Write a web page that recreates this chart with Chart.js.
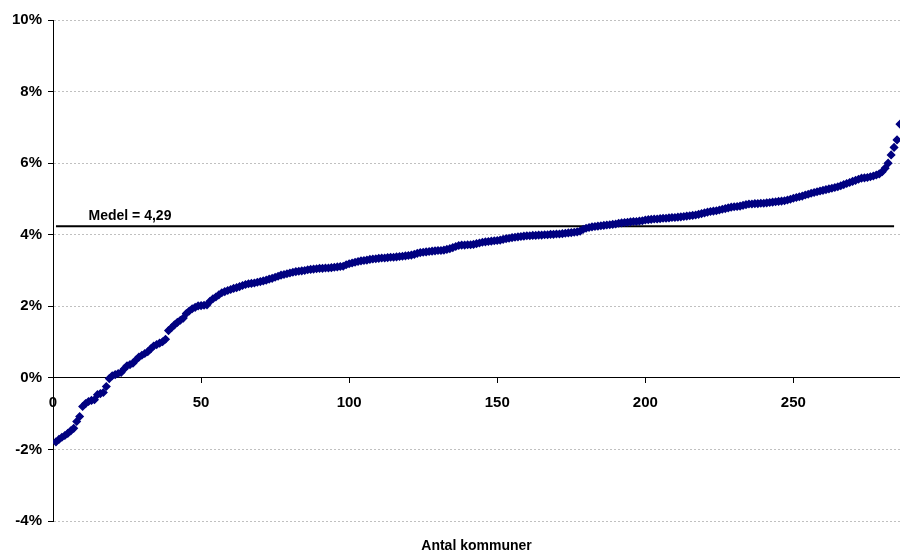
<!DOCTYPE html>
<html>
<head>
<meta charset="utf-8">
<script src="https://cdn.jsdelivr.net/npm/chart.js@4"></script>
<style>
  body { margin: 0; background: #fff; }
  #wrap { width: 900px; height: 555px; position: relative; }
</style>
</head>
<body>
<div id="wrap"><canvas id="kommunChart"></canvas></div>
<script>
// sorted values per kommun (percent)
const values = [
  -1.79, -1.72, -1.66, -1.61, -1.55, -1.48, -1.41, -1.22, -1.08, -0.80,
  -0.72, -0.66, -0.63, -0.61, -0.47, -0.44, -0.41, -0.24, -0.02, 0.06,
  0.09, 0.12, 0.15, 0.25, 0.34, 0.37, 0.41, 0.50, 0.58, 0.63,
  0.68, 0.73, 0.81, 0.89, 0.93, 0.97, 1.01, 1.08, 1.32, 1.40,
  1.48, 1.55, 1.61, 1.67, 1.80, 1.87, 1.93, 1.97, 2.01, 2.02,
  2.03, 2.04, 2.14, 2.21, 2.26, 2.32, 2.38, 2.41, 2.44, 2.47,
  2.50, 2.52, 2.55, 2.58, 2.61, 2.63, 2.64, 2.65, 2.67, 2.69,
  2.71, 2.73, 2.76, 2.78, 2.81, 2.84, 2.87, 2.89, 2.91, 2.93,
  2.95, 2.97, 2.98, 2.99, 3.00, 3.02, 3.03, 3.04, 3.05, 3.06,
  3.06, 3.07, 3.07, 3.08, 3.09, 3.10, 3.11, 3.12, 3.16, 3.19,
  3.21, 3.23, 3.25, 3.27, 3.28, 3.29, 3.31, 3.32, 3.33, 3.34,
  3.35, 3.35, 3.36, 3.37, 3.37, 3.38, 3.39, 3.40, 3.41, 3.42,
  3.43, 3.45, 3.48, 3.50, 3.51, 3.52, 3.53, 3.54, 3.55, 3.56,
  3.56, 3.57, 3.59, 3.61, 3.64, 3.67, 3.70, 3.71, 3.71, 3.72,
  3.72, 3.73, 3.75, 3.77, 3.79, 3.80, 3.81, 3.82, 3.83, 3.84,
  3.85, 3.87, 3.89, 3.90, 3.92, 3.93, 3.94, 3.95, 3.96, 3.97,
  3.97, 3.98, 3.98, 3.99, 3.99, 4.00, 4.00, 4.01, 4.01, 4.02,
  4.02, 4.03, 4.04, 4.05, 4.06, 4.07, 4.08, 4.10, 4.15, 4.18,
  4.20, 4.22, 4.23, 4.24, 4.25, 4.26, 4.27, 4.28, 4.29, 4.30,
  4.32, 4.33, 4.34, 4.35, 4.36, 4.37, 4.37, 4.38, 4.39, 4.41,
  4.42, 4.43, 4.44, 4.44, 4.45, 4.46, 4.46, 4.47, 4.48, 4.48,
  4.49, 4.50, 4.51, 4.52, 4.53, 4.54, 4.55, 4.57, 4.59, 4.61,
  4.63, 4.65, 4.66, 4.67, 4.69, 4.71, 4.73, 4.75, 4.77, 4.78,
  4.79, 4.80, 4.82, 4.84, 4.86, 4.86, 4.87, 4.87, 4.88, 4.88,
  4.89, 4.90, 4.91, 4.92, 4.93, 4.94, 4.95, 4.97, 4.99, 5.02,
  5.04, 5.06, 5.08, 5.11, 5.13, 5.16, 5.18, 5.20, 5.22, 5.24,
  5.26, 5.28, 5.30, 5.32, 5.34, 5.37, 5.40, 5.43, 5.46, 5.49,
  5.52, 5.55, 5.58, 5.59, 5.60, 5.62, 5.64, 5.67, 5.70, 5.76,
  5.86, 6.00, 6.23, 6.44, 6.65, 7.09
];

// mean line
const medelText = "Medel = 4,29";
const medelLevel = 4.24;
const medelStart = 1;
const medelEnd = 284;

// axes
const xMax = 286;
const xTickStep = 50;
const yMin = -4;
const yMax = 10;
const yTickStep = 2;
const xTitle = "Antal kommuner";

const FONT = "'Liberation Sans', Arial, sans-serif";

const points = values.map((v, i) => ({ x: i + 1, y: v }));

// draws the mean label and the x axis title
const textPlugin = {
  id: "texts",
  afterDraw(chart) {
    const { ctx, chartArea, scales } = chart;
    ctx.save();
    ctx.fillStyle = "#000";
    ctx.font = "bold 14px " + FONT;
    ctx.textAlign = "left";
    ctx.textBaseline = "alphabetic";
    ctx.fillText(medelText, scales.x.getPixelForValue(12), scales.y.getPixelForValue(medelLevel) - 6);
    ctx.textAlign = "center";
    ctx.fillText(xTitle, (chartArea.left + chartArea.right) / 2, 550);
    ctx.restore();
  },
};

const ctx = document.getElementById("kommunChart").getContext("2d");

new Chart(ctx, {
  type: "scatter",
  data: {
    datasets: [
      {
        label: "Kommuner",
        data: points,
        backgroundColor: "#000080",
        borderColor: "#000080",
        borderWidth: 1.5,
        pointStyle: "rectRot",
        pointRadius: 3.5,
        pointHoverRadius: 3.5,
      },
      {
        label: "Medel",
        type: "line",
        data: [
          { x: medelStart, y: medelLevel },
          { x: medelEnd, y: medelLevel },
        ],
        borderColor: "#000",
        borderWidth: 2,
        pointRadius: 0,
      },
    ],
  },
  options: {
    responsive: true,
    maintainAspectRatio: false,
    animation: false,
    layout: {
      autoPadding: false,
      padding: { top: 20, bottom: 34, left: 0, right: 0 },
    },
    plugins: {
      legend: { display: false },
      tooltip: { enabled: false },
    },
    scales: {
      x: {
        type: "linear",
        min: 0,
        max: xMax,
        position: { y: 0 },
        afterBuildTicks: (scale) => {
          scale.ticks = scale.ticks.filter((t) => t.value % xTickStep === 0);
        },
        afterFit: (scale) => {
          scale.paddingLeft = 0;
          scale.paddingRight = 0;
        },
        ticks: {
          stepSize: xTickStep,
          color: "#000",
          font: { family: FONT, size: 15, weight: "bold" },
          padding: 11,
          maxRotation: 0,
        },
        grid: {
          drawOnChartArea: false,
          tickLength: 5,
          tickColor: "#000",
        },
        border: { color: "#000", width: 1 },
      },
      y: {
        min: yMin,
        max: yMax,
        afterFit: (scale) => {
          scale.width = 53;
        },
        ticks: {
          stepSize: yTickStep,
          color: "#000",
          font: { family: FONT, size: 15, weight: "bold" },
          padding: 6,
          callback: (v) => v + "%",
        },
        grid: {
          color: "#c0c0c0",
          tickLength: 5,
          tickColor: "#000",
          tickBorderDash: [],
        },
        border: { color: "#000", width: 1, dash: [2, 2] },
      },
    },
  },
  plugins: [textPlugin],
});
</script>
</body>
</html>
